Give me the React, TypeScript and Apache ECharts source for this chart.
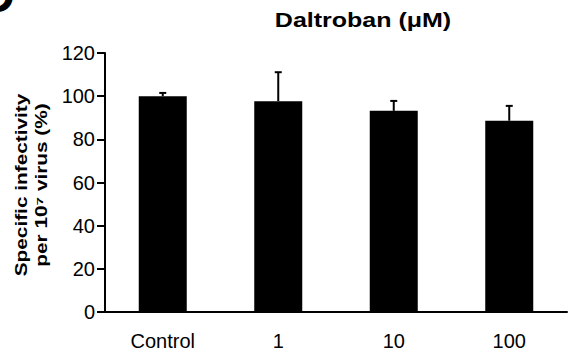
import React, { useEffect, useRef } from "react";
import * as echarts from "echarts";

const categories = ["Control", "1", "10", "100"];
const means = [100, 97.7, 93.2, 88.6];
const errors = [1.5, 13.4, 4.6, 6.9];
const yTicks = [0, 20, 40, 60, 80, 100, 120];

export default function App() {
  const ref = useRef<HTMLDivElement>(null);
  useEffect(() => {
    if (!ref.current) return;
    const chart = echarts.init(ref.current, null, { renderer: "svg" });
    const font = "Liberation Sans, Arial, Helvetica, sans-serif";
    chart.setOption({
      animation: false,
      backgroundColor: "#ffffff",
      grid: { left: 105, right: 4, top: 53, bottom: 38, containLabel: false },
      graphic: [
        {
          type: "text",
          x: 363,
          y: 10,
          scaleX: 1.25,
          style: {
            text: "Daltroban (μM)",
            font: `bold 20px ${font}`,
            fill: "#000",
            textAlign: "center",
            textVerticalAlign: "top",
          },
        },
        {
          type: "text",
          x: 31,
          y: 185,
          rotation: Math.PI / 2,
          scaleX: 1.3,
          style: {
            text: "Specific infectivity\nper 10⁷ virus (%)",
            font: `bold 16px ${font}`,
            lineHeight: 20,
            fill: "#000",
            textAlign: "center",
            textVerticalAlign: "middle",
          },
        },
        {
          type: "text",
          x: 15,
          y: 19,
          style: {
            text: "D",
            font: `bold 48px ${font}`,
            fill: "#000",
            textAlign: "right",
            textVerticalAlign: "bottom",
          },
        },
      ],
      xAxis: {
        type: "category",
        data: categories,
        axisLine: { lineStyle: { color: "#000", width: 2 } },
        axisTick: { show: false },
        axisLabel: { color: "#000", fontSize: 20, fontFamily: font, margin: 19 },
      },
      yAxis: {
        type: "value",
        min: 0,
        max: 120,
        interval: 20,
        splitLine: { show: false },
        axisLine: { show: true, lineStyle: { color: "#000", width: 2 } },
        axisTick: { show: true, length: 8, lineStyle: { color: "#000", width: 2 } },
        axisLabel: {
          color: "#000",
          fontSize: 20,
          fontFamily: font,
          margin: 10,
          formatter: (v: number) => (yTicks.includes(v) ? String(v) : ""),
        },
      },
      series: [
        {
          type: "bar",
          data: means,
          barWidth: 48,
          itemStyle: { color: "#000" },
          z: 2,
        },
        {
          type: "custom",
          data: means.map((m, i) => [i, m, m + errors[i]]),
          z: 3,
          renderItem: (params: any, api: any) => {
            const i = api.value(0);
            const lo = api.coord([i, api.value(1)]);
            const hi = api.coord([i, api.value(2)]);
            const hw = 3.5;
            return {
              type: "group",
              children: [
                {
                  type: "line",
                  shape: { x1: lo[0], y1: lo[1], x2: hi[0], y2: hi[1] },
                  style: { stroke: "#000", lineWidth: 2 },
                },
                {
                  type: "line",
                  shape: { x1: hi[0] - hw, y1: hi[1], x2: hi[0] + hw, y2: hi[1] },
                  style: { stroke: "#000", lineWidth: 2 },
                },
              ],
            };
          },
        },
      ],
    });
    return () => chart.dispose();
  }, []);
  return <div ref={ref} style={{ width: 571, height: 351, position: "absolute", left: 0, top: 0 }} />;
}
